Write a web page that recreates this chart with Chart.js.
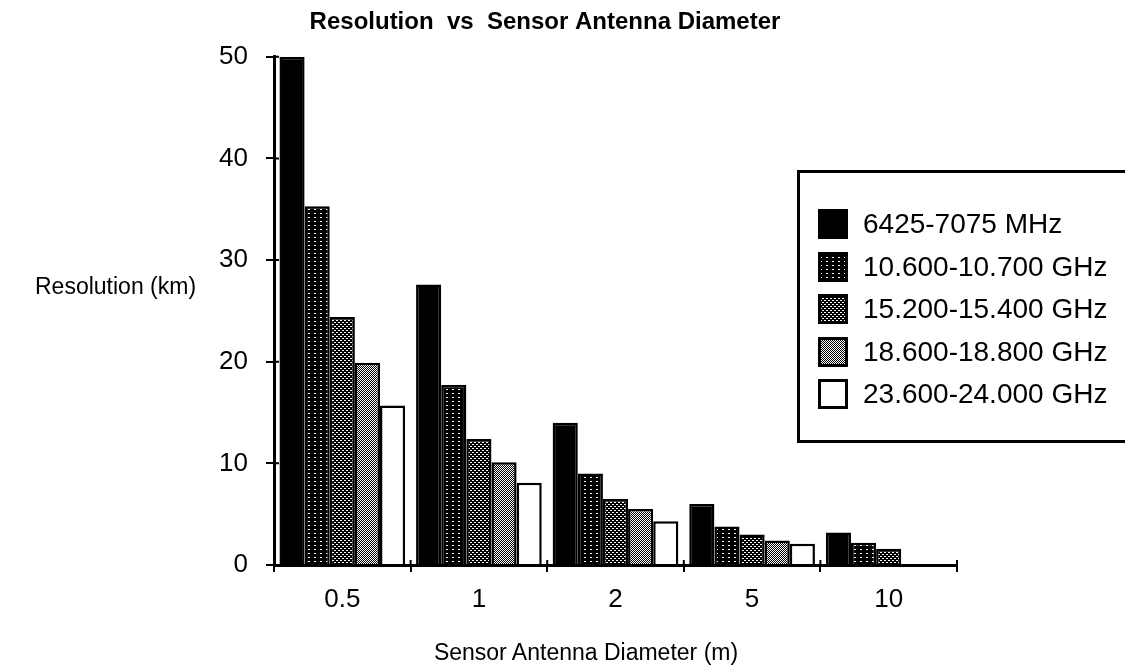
<!DOCTYPE html>
<html lang="en">
<head>
<meta charset="UTF-8" />
<title>Resolution vs Sensor Antenna Diameter</title>
<script src="https://cdn.jsdelivr.net/npm/chart.js"></script>
<style>
  body { margin: 0; background: #fff; font-family: 'Liberation Sans', Arial, sans-serif; color: #000; }
  #wrap { position: relative; width: 1125px; height: 669px; overflow: hidden; }
  #chart { position: absolute; left: 0; top: 0; }
  .lbl { position: absolute; white-space: nowrap; line-height: 28px; }
  #ytitle { left: 35px; top: 272px; font-size: 23px; }
  #xtitle { left: 386px; width: 400px; top: 638px; font-size: 23px; text-align: center; }
  #legend { position: absolute; left: 797px; top: 170px; width: 340px; height: 267px; border: 3px solid #000; background: #fff; }
  #legend .row { display: flex; align-items: center; height: 42.5px; padding-left: 18px; font-size: 28px; }
  #legend canvas { margin-right: 15px; }
</style>
</head>
<body>
<div id="wrap">
  <canvas id="chart" width="1125" height="669"></canvas>
  <div class="lbl" id="ytitle">Resolution (km)</div>
  <div class="lbl" id="xtitle">Sensor Antenna Diameter (m)</div>
  <div id="legend"><div style="height:30px"></div></div>
</div>
<script>
  // data
  const diameters = ['0.5', '1', '2', '5', '10'];
  const bands = ['6425-7075 MHz', '10.600-10.700 GHz', '15.200-15.400 GHz', '18.600-18.800 GHz', '23.600-24.000 GHz'];
  const res6GHz = [50, 27.6, 14.0, 6.0, 3.2];
  const res10GHz = [35.3, 17.7, 9.0, 3.8, 2.2];
  const res15GHz = [24.4, 12.4, 6.5, 3.0, 1.6];
  const res18GHz = [19.9, 10.1, 5.5, 2.4, null];
  const res23GHz = [15.7, 8.1, 4.3, 2.1, null];
  const yTicks = [0, 10, 20, 30, 40, 50];

  const font = "'Liberation Sans', Arial, sans-serif";

  // black tiles with white dots, like the old screen tones
  function tone(w, h, dots) {
    const c = document.createElement('canvas');
    c.width = w; c.height = h;
    const g = c.getContext('2d');
    g.fillStyle = '#000';
    g.fillRect(0, 0, w, h);
    g.fillStyle = '#fff';
    dots.forEach(d => g.fillRect(d[0], d[1], d[2], d[3]));
    return g.createPattern(c, 'repeat');
  }

  const fills = [
    '#000',
    tone(6, 4, [[2, 1, 2, 1]]),
    tone(4, 4, [[0, 0, 2, 1], [2, 2, 2, 1]]),
    tone(2, 2, [[0, 0, 1, 1], [1, 1, 1, 1]]),
    '#fff'
  ];
  const series = [res6GHz, res10GHz, res15GHz, res18GHz, res23GHz];

  // legend
  const legend = document.getElementById('legend');
  bands.forEach((name, i) => {
    const row = document.createElement('div');
    row.className = 'row';
    const sw = document.createElement('canvas');
    sw.width = 30; sw.height = 30;
    const g = sw.getContext('2d');
    g.fillStyle = fills[i];
    g.fillRect(0, 0, 30, 30);
    g.lineWidth = 3;
    g.strokeStyle = '#000';
    g.strokeRect(1.5, 1.5, 27, 27);
    row.appendChild(sw);
    row.appendChild(document.createTextNode(name));
    legend.appendChild(row);
  });

  // short tick stubs on the inner side of both axes
  const innerTicks = {
    id: 'innerTicks',
    afterDraw(chart) {
      const { ctx, chartArea, scales } = chart;
      ctx.save();
      ctx.strokeStyle = '#000';
      ctx.lineWidth = 2;
      ctx.beginPath();
      yTicks.forEach(v => {
        const y = scales.y.getPixelForValue(v);
        ctx.moveTo(chartArea.left, y);
        ctx.lineTo(chartArea.left + 5, y);
      });
      scales.x.ticks.forEach((t, i) => {
        const x = scales.x.getPixelForTick(i) - scales.x.getPixelForTick(0) + chartArea.left;
        ctx.moveTo(x, chartArea.bottom);
        ctx.lineTo(x, chartArea.bottom - 5);
      });
      ctx.moveTo(chartArea.right, chartArea.bottom);
      ctx.lineTo(chartArea.right, chartArea.bottom - 5);
      ctx.stroke();
      ctx.restore();
    }
  };

  new Chart(document.getElementById('chart'), {
    type: 'bar',
    data: {
      labels: diameters,
      datasets: series.map((vals, i) => ({
        label: bands[i],
        data: vals,
        backgroundColor: fills[i],
        borderColor: '#000',
        borderWidth: 2.5,
        categoryPercentage: 0.92,
        barPercentage: 1
      }))
    },
    options: {
      responsive: false,
      animation: false,
      layout: { padding: { left: 133, right: 168, top: 0, bottom: 0 } },
      plugins: {
        legend: { display: false },
        tooltip: { enabled: false },
        title: {
          display: true,
          text: 'Resolution  vs  Sensor Antenna Diameter',
          color: '#000',
          font: { family: font, size: 24, weight: 'bold' },
          padding: { top: 8, bottom: 20 }
        }
      },
      scales: {
        x: {
          afterFit: s => { s.height = 104; },
          grid: { drawOnChartArea: false, offset: true, color: '#000', tickLength: 7, lineWidth: 2 },
          border: { color: '#000', width: 3 },
          ticks: { color: '#000', font: { family: font, size: 26 }, padding: 12 }
        },
        y: {
          min: 0,
          max: 50,
          afterFit: s => { s.width = 141; },
          afterBuildTicks: s => { s.ticks = yTicks.map(v => ({ value: v })); },
          grid: { drawOnChartArea: false, color: '#000', tickLength: 8, lineWidth: 2 },
          border: { color: '#000', width: 3 },
          ticks: { color: '#000', font: { family: font, size: 26 }, padding: 18 }
        }
      }
    },
    plugins: [innerTicks]
  });
</script>
</body>
</html>
